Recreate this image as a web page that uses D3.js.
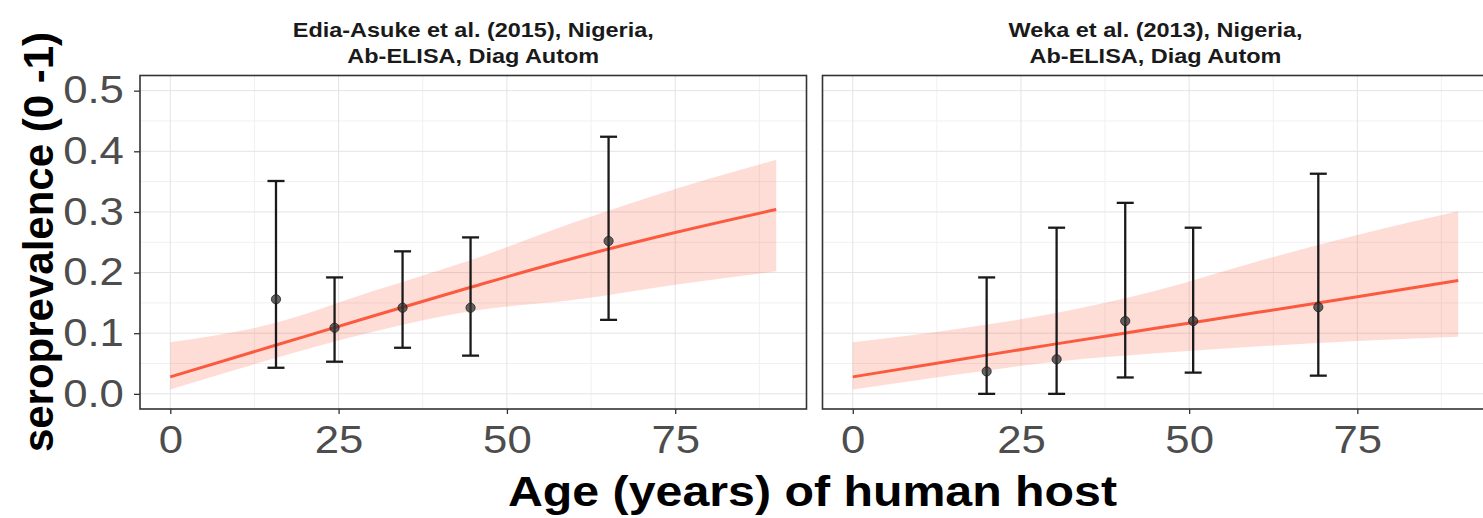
<!DOCTYPE html>
<html>
<head>
<meta charset="utf-8">
<script src="https://cdn.jsdelivr.net/npm/d3@7"></script>
<style>
  html, body { margin: 0; padding: 0; background: #ffffff; }
  svg { display: block; }
  text { font-family: "Liberation Sans", Arial, Helvetica, sans-serif; }
</style>
</head>
<body>
<svg id="chart" width="1483" height="518"></svg>
<script>
// ---------------- data ----------------
const ageTicks = [0, 25, 50, 75];
const ageMinor = [12.5, 37.5, 62.5, 87.5];
const prevTicks = [0, 0.1, 0.2, 0.3, 0.4, 0.5];
const prevMinor = [0.05, 0.15, 0.25, 0.35, 0.45];
const prevTickLabels = ["0.0", "0.1", "0.2", "0.3", "0.4", "0.5"];

const xTitle = "Age (years) of human host";
const yTitle = "seroprevalence (0 -1)";

const ediaTitle = ["Edia-Asuke et al. (2015), Nigeria,", "Ab-ELISA, Diag Autom"];
const ediaAge = [15.7, 24.4, 34.5, 44.6, 65.1];
const ediaPrev = [0.156, 0.109, 0.142, 0.142, 0.252];
const ediaLower = [0.043, 0.053, 0.076, 0.063, 0.122];
const ediaUpper = [0.351, 0.192, 0.235, 0.258, 0.424];

const wekaTitle = ["Weka et al. (2013), Nigeria,", "Ab-ELISA, Diag Autom"];
const wekaAge = [19.9, 30.3, 40.5, 50.6, 69.2];
const wekaPrev = [0.037, 0.057, 0.120, 0.120, 0.143];
const wekaLower = [0.0, 0.0, 0.027, 0.035, 0.030];
const wekaUpper = [0.192, 0.274, 0.315, 0.274, 0.363];

const fitAge = [0, 15, 30, 45, 60, 75, 90];
const ediaFit = [0.028, 0.078, 0.128, 0.177, 0.224, 0.266, 0.304];
const ediaFitLo = [0.007, 0.057, 0.102, 0.137, 0.155, 0.180, 0.202];
const ediaFitHi = [0.085, 0.115, 0.169, 0.222, 0.283, 0.338, 0.386];
const wekaFit = [0.028, 0.055, 0.082, 0.108, 0.134, 0.160, 0.187];
const wekaFitLo = [0.007, 0.031, 0.053, 0.067, 0.078, 0.087, 0.094];
const wekaFitHi = [0.085, 0.106, 0.133, 0.170, 0.218, 0.262, 0.301];

// ---------------- layout ----------------
const svg = d3.select("#chart");
svg.append("rect").attr("width", 1483).attr("height", 518).attr("fill", "#ffffff");

const panelTop = 75.5, panelBottom = 409;
const xDomain = [-4.5, 94.5];
const yScale = d3.scaleLinear().domain([-0.025, 0.525]).range([panelBottom, panelTop]);

const panels = [
  { x0: 140, x1: 806.5, title: ediaTitle, age: ediaAge, prev: ediaPrev, lo: ediaLower, hi: ediaUpper,
    fit: ediaFit, fitLo: ediaFitLo, fitHi: ediaFitHi, yAxis: true },
  { x0: 822.5, x1: 1488.5, title: wekaTitle, age: wekaAge, prev: wekaPrev, lo: wekaLower, hi: wekaUpper,
    fit: wekaFit, fitLo: wekaFitLo, fitHi: wekaFitHi, yAxis: false }
];

const lineColor = "#fb5a3f";
const ribbonColor = "#ff6347";
const SX = 1.15; // horizontal text stretch seen in the reference

panels.forEach(p => {
  const x = d3.scaleLinear().domain(xDomain).range([p.x0, p.x1]);
  const g = svg.append("g");

  // grid (minor then major)
  g.selectAll(".vminor").data(ageMinor).join("line")
    .attr("x1", d => x(d)).attr("x2", d => x(d)).attr("y1", panelTop).attr("y2", panelBottom)
    .attr("stroke", "#f0f0f0").attr("stroke-width", 1);
  g.selectAll(".hminor").data(prevMinor).join("line")
    .attr("x1", p.x0).attr("x2", p.x1).attr("y1", d => yScale(d)).attr("y2", d => yScale(d))
    .attr("stroke", "#f0f0f0").attr("stroke-width", 1);
  g.selectAll(".vmajor").data(ageTicks).join("line")
    .attr("x1", d => x(d)).attr("x2", d => x(d)).attr("y1", panelTop).attr("y2", panelBottom)
    .attr("stroke", "#e3e3e3").attr("stroke-width", 1);
  g.selectAll(".hmajor").data(prevTicks).join("line")
    .attr("x1", p.x0).attr("x2", p.x1).attr("y1", d => yScale(d)).attr("y2", d => yScale(d))
    .attr("stroke", "#e3e3e3").attr("stroke-width", 1);

  // ribbon
  const fitRows = fitAge.map((a, i) => ({ a, f: p.fit[i], lo: p.fitLo[i], hi: p.fitHi[i] }));
  const area = d3.area().curve(d3.curveMonotoneX)
    .x(d => x(d.a)).y0(d => yScale(d.lo)).y1(d => yScale(d.hi));
  g.append("path").datum(fitRows).attr("d", area)
    .attr("fill", ribbonColor).attr("fill-opacity", 0.22);

  // fitted line
  const line = d3.line().curve(d3.curveMonotoneX).x(d => x(d.a)).y(d => yScale(d.f));
  g.append("path").datum(fitRows).attr("d", line)
    .attr("fill", "none").attr("stroke", lineColor).attr("stroke-width", 3);

  // error bars
  const obs = p.age.map((a, i) => ({ a, v: p.prev[i], lo: p.lo[i], hi: p.hi[i] }));
  const eb = g.selectAll(".eb").data(obs).join("g").attr("stroke", "#1a1a1a").attr("stroke-width", 2.3);
  eb.append("line").attr("x1", d => x(d.a)).attr("x2", d => x(d.a))
    .attr("y1", d => yScale(d.lo)).attr("y2", d => yScale(d.hi));
  eb.append("line").attr("x1", d => x(d.a) - 8.5).attr("x2", d => x(d.a) + 8.5)
    .attr("y1", d => yScale(d.lo)).attr("y2", d => yScale(d.lo));
  eb.append("line").attr("x1", d => x(d.a) - 8.5).attr("x2", d => x(d.a) + 8.5)
    .attr("y1", d => yScale(d.hi)).attr("y2", d => yScale(d.hi));

  // points
  g.selectAll(".pt").data(obs).join("circle")
    .attr("cx", d => x(d.a)).attr("cy", d => yScale(d.v)).attr("r", 4.6)
    .attr("fill", "#333333").attr("fill-opacity", 0.75)
    .attr("stroke", "#1a1a1a").attr("stroke-opacity", 0.75).attr("stroke-width", 1);

  // panel border
  g.append("rect").attr("x", p.x0).attr("y", panelTop)
    .attr("width", p.x1 - p.x0).attr("height", panelBottom - panelTop)
    .attr("fill", "none").attr("stroke", "#333333").attr("stroke-width", 1.6);

  // x axis
  const xa = svg.append("g").attr("transform", `translate(0,${panelBottom})`)
    .call(d3.axisBottom(x).tickValues(ageTicks).tickFormat(d3.format("d")).tickSize(5).tickPadding(12));
  xa.select(".domain").remove();
  xa.selectAll(".tick line").attr("stroke", "#333333").attr("stroke-width", 1.3);
  xa.selectAll(".tick text").attr("fill", "#4d4d4d").style("font-size", "38px")
    .attr("font-family", "Liberation Sans, Arial, sans-serif")
    .attr("transform", `scale(${SX},1)`);

  // y axis
  if (p.yAxis) {
    const ya = svg.append("g").attr("transform", `translate(${p.x0},0)`)
      .call(d3.axisLeft(yScale).tickValues(prevTicks).tickFormat((d, i) => prevTickLabels[i]).tickSize(6).tickPadding(8));
    ya.select(".domain").remove();
    ya.selectAll(".tick line").attr("stroke", "#333333").attr("stroke-width", 1.3);
    ya.selectAll(".tick text").attr("fill", "#4d4d4d").style("font-size", "38px")
      .attr("font-family", "Liberation Sans, Arial, sans-serif")
      .attr("transform", `scale(${SX},1)`);
  }

  // strip title
  const cx = (p.x0 + p.x1) / 2;
  p.title.forEach((t, i) => {
    svg.append("text")
      .attr("transform", `translate(${cx},${37.3 + i * 25.7}) scale(${SX},1)`)
      .attr("text-anchor", "middle").attr("font-weight", "bold")
      .style("font-size", "20.4px").attr("fill", "#1a1a1a").text(t);
  });
});

// axis titles
svg.append("text")
  .attr("transform", `translate(812.5,506) scale(${SX},1)`)
  .attr("text-anchor", "middle").attr("font-weight", "bold")
  .style("font-size", "42px").attr("fill", "#000000").text(xTitle);

svg.append("text")
  .attr("transform", `translate(53,242) rotate(-90)`)
  .attr("text-anchor", "middle").attr("font-weight", "bold")
  .style("font-size", "42px").attr("fill", "#000000").text(yTitle);
</script>
</body>
</html>
